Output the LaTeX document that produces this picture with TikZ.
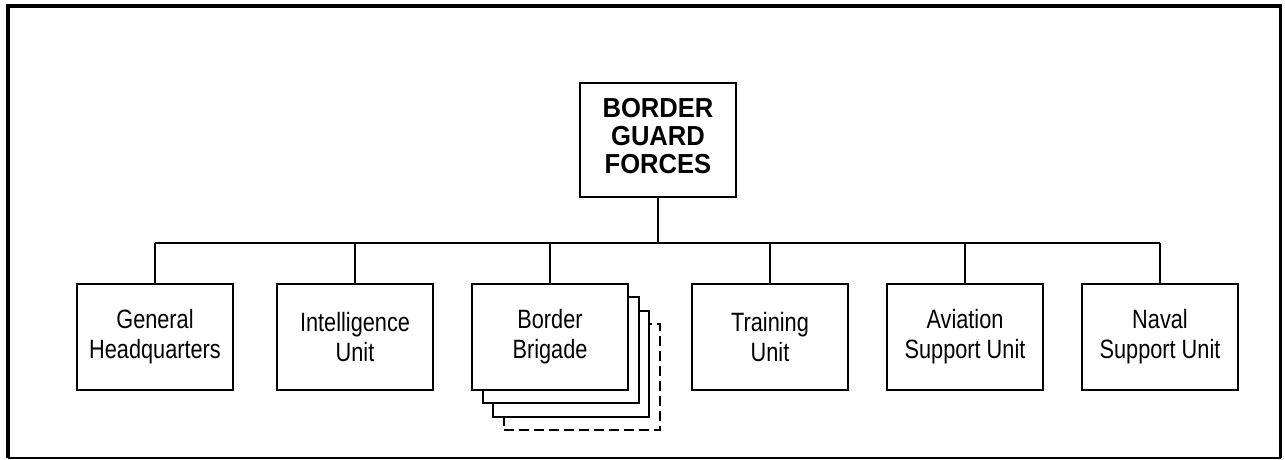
\documentclass[tikz,border=0pt]{standalone}
\usepackage{fontspec}
\setmainfont{Liberation Sans}
\newfontfamily\unitfont{Liberation Sans}[FakeStretch=0.82]
\newfontfamily\headfont{Liberation Sans}[FakeStretch=0.93]
\begin{document}
\begin{tikzpicture}[x=1pt,y=-1pt,
  unitbox/.style={draw,line width=1.6pt,fill=white,minimum width=156pt,minimum height=106pt,inner sep=0pt,align=center,font=\unitfont\fontsize{26.5}{30}\selectfont},
  stackbox/.style={draw,line width=1.6pt,fill=white,minimum width=156pt,minimum height=106pt,inner sep=0pt},
  headbox/.style={draw,line width=1.6pt,fill=white,minimum width=156pt,minimum height=114pt,inner sep=0pt,align=center,font=\headfont\bfseries\fontsize{27.5}{28}\selectfont},
  link/.style={line width=1.5pt}]
\useasboundingbox (0,0) rectangle (1285,459);
% frame
\draw[line width=3.5pt] (8,458) -- (8,5.8) -- (1280.5,5.8) -- (1280.5,458);
\draw[line width=1.5pt] (8,458) -- (1280.5,458);
% top
\node[headbox] (top) at (658,140) {\raisebox{3pt}{\begin{tabular}{@{}c@{}}BORDER\\GUARD\\FORCES\end{tabular}}};
\coordinate (bus) at (658,243);
% stacked brigade copies
\node[stackbox,line width=2pt,dash pattern=on 10pt off 5pt] (bb3) at (582,377) {};
\node[stackbox] (bb2) at (571,364) {};
\node[stackbox] (bb1) at (561,350) {};
% units
\node[unitbox] (ghq) at (155,337) {General\\Headquarters};
\node[unitbox] (intel) at (355,337) {Intelligence\\Unit};
\node[unitbox] (bb) at (550,337) {Border\\Brigade};
\node[unitbox] (train) at (770,337) {Training\\Unit};
\node[unitbox] (avia) at (965,337) {Aviation\\Support Unit};
\node[unitbox] (naval) at (1160,337) {Naval\\Support Unit};
% connectors
\draw[link] (top.south) -- (bus);
\draw[link] (ghq.north |- bus) -- (naval.north |- bus);
\foreach \n in {ghq,intel,bb,train,avia,naval}
  \draw[link] (\n.north) -- (\n.north |- bus);
\end{tikzpicture}
\end{document}
